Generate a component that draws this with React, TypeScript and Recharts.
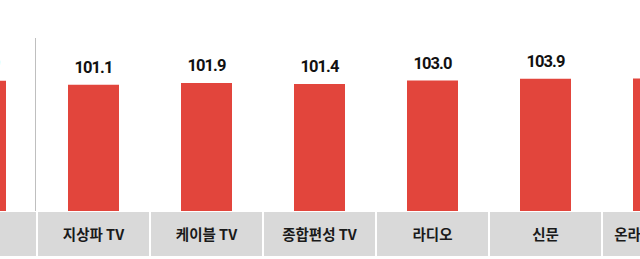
import { Bar, BarChart, LabelList, XAxis, YAxis } from 'recharts'

const categories = ['전체', '지상파 TV', '케이블 TV', '종합편성 TV', '라디오', '신문', '온라인·모바일']
const values = [102.9, 101.1, 101.9, 101.4, 103.0, 103.9, 104.0]

const data = categories.map((name, i) => ({ name, value: values[i] }))

const BAR_COLOR = '#e2453c'
const BOX_COLOR = '#d9d9d9'

function CategoryTick(props: any) {
  const { x, y, payload } = props
  return (
    <g>
      <rect x={x - 55.5} y={y + 1} width={111} height={44} fill={BOX_COLOR} />
      <text
        x={x}
        y={y + 29}
        textAnchor="middle"
        fontSize={14.5}
        fontWeight={700}
        fill="#1a1a1a"
        fontFamily="'Noto Sans CJK KR', sans-serif"
      >
        {payload.value}
      </text>
    </g>
  )
}

export default function App() {
  return (
    <div
      style={{
        position: 'fixed',
        left: 0,
        top: 0,
        width: 640,
        height: 259,
        overflow: 'hidden',
        background: '#fff',
      }}
    >
      <div style={{ position: 'absolute', left: -76, top: 0 }}>
        <BarChart
          width={791}
          height={259}
          data={data}
          barCategoryGap={0}
          margin={{ top: 10, right: 0, left: 0, bottom: 0 }}
        >
          <XAxis
            dataKey="name"
            height={48}
            axisLine={false}
            tickLine={false}
            tickSize={0}
            tickMargin={0}
            interval={0}
            tick={<CategoryTick />}
          />
          <YAxis hide domain={[42, 136]} />
          <Bar dataKey="value" fill={BAR_COLOR} barSize={51} isAnimationActive={false}>
            <LabelList
              dataKey="value"
              position="top"
              offset={12}
              formatter={(v: any) => Number(v).toFixed(1)}
              style={{
                fontSize: 16.5,
                fontWeight: 700,
                fill: '#111',
                fontFamily: 'Roboto, sans-serif',
                letterSpacing: -0.9,
              }}
            />
          </Bar>
        </BarChart>
      </div>
      <div
        style={{
          position: 'absolute',
          left: 35,
          top: 38,
          width: 1,
          height: 173,
          background: '#bfbfbf',
        }}
      />
    </div>
  )
}
